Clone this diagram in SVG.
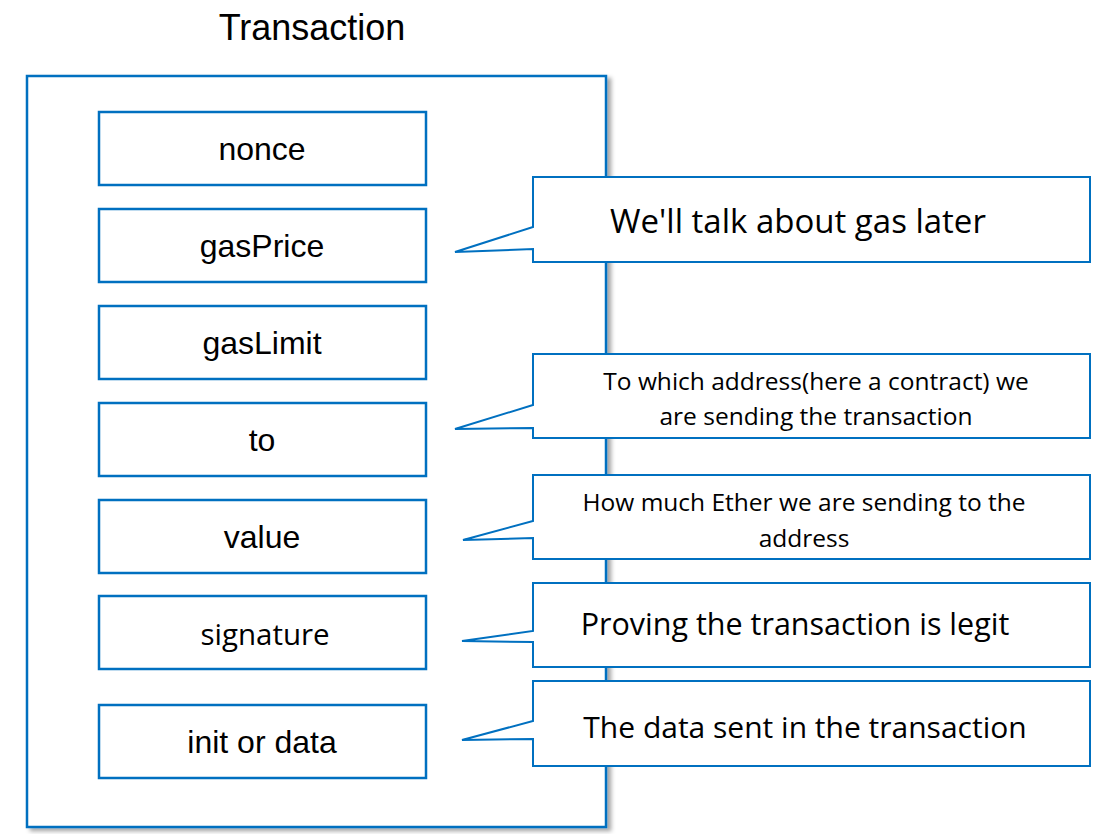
<svg xmlns="http://www.w3.org/2000/svg" width="1107" height="834" viewBox="0 0 1107 834">
<defs><filter id="sh" x="-5%" y="-5%" width="115%" height="115%"><feDropShadow dx="4" dy="3" stdDeviation="2" flood-color="#000" flood-opacity="0.35"/></filter></defs>
<style>
.f{fill:#fff;stroke:#0070c0;stroke-width:2.5}
.c{fill:#fff;stroke:#0070c0;stroke-width:2}
.a{font-family:"Liberation Sans",Arial,sans-serif;font-size:32px;fill:#000;text-anchor:middle}
.s{font-family:"Open Sans","Noto Sans",sans-serif;fill:#000;text-anchor:middle}
</style>
<rect width="1107" height="834" fill="#fff"/>
<text x="312" y="40" class="a" style="font-size:36px">Transaction</text>
<g id="outer"><rect x="27" y="76" width="579" height="751" fill="#fff" stroke="#0070c0" stroke-width="2.5" filter="url(#sh)"/></g>
<g id="nonce"><rect class="f" x="99" y="112" width="327" height="73"/><text class="a" x="262" y="160">nonce</text></g>
<g id="gasPrice"><rect class="f" x="99" y="209" width="327" height="73"/><text class="a" x="262" y="257">gasPrice</text></g>
<g id="gasLimit"><rect class="f" x="99" y="306" width="327" height="73"/><text class="a" x="262" y="354">gasLimit</text></g>
<g id="to"><rect class="f" x="99" y="403" width="327" height="73"/><text class="a" x="262" y="451">to</text></g>
<g id="value"><rect class="f" x="99" y="500" width="327" height="73"/><text class="a" x="262" y="548">value</text></g>
<g id="signature"><rect class="f" x="99" y="596" width="327" height="73"/><text class="s" x="265" y="645" font-size="29.5">signature</text></g>
<g id="init"><rect class="f" x="99" y="705" width="327" height="73"/><text class="a" x="262" y="753">init or data</text></g>
<g id="callouts">
<g id="c1"><path class="c" d="M533,177 H1090 V262 H533 V249 L455,252 L533,227 Z"/><text class="s" x="798" y="233" font-size="33">We'll talk about gas later</text></g>
<g id="c2"><path class="c" d="M533,354 H1090 V438 H533 V428 L455,429 L533,405 Z"/><text class="s" x="816" y="390" font-size="24.5">To which address(here a contract) we</text><text class="s" x="816" y="425" font-size="24.5">are sending the transaction</text></g>
<g id="c3"><path class="c" d="M533,475 H1090 V559 H533 V538 L463,540 L533,521 Z"/><text class="s" x="804" y="511" font-size="24.5">How much Ether we are sending to the</text><text class="s" x="804" y="547" font-size="24.5">address</text></g>
<g id="c4"><path class="c" d="M533,583 H1090 V667 H533 V642 L462,641 L533,631 Z"/><text class="s" x="795" y="635" font-size="30.5">Proving the transaction is legit</text></g>
<g id="c5"><path class="c" d="M533,681 H1090 V766 H533 V739 L462,740 L533,721 Z"/><text class="s" x="805" y="738" font-size="30">The data sent in the transaction</text></g>
</g>
</svg>
